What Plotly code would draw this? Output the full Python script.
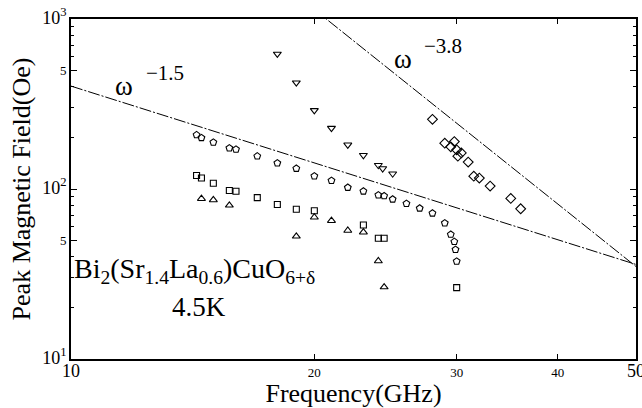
import math
import plotly.graph_objects as go

# ---- data (frequency in GHz, peak field in Oe) ----
pent_f = [14.3, 14.5, 15.0, 15.7, 16.0, 17.0, 18.0, 19.0, 20.0, 21.0, 22.0, 23.0,
          24.0, 24.4, 25.0, 26.0, 27.0, 28.0, 29.0, 29.5, 29.8, 29.9, 30.0]
pent_h = [208, 200, 188, 174, 171, 156, 142, 132, 119, 112, 102, 97,
          92, 91, 87, 82, 77, 72, 63, 54, 49, 44, 37.5]

sq_f = [14.3, 14.5, 15.0, 15.7, 16.0, 17.0, 18.0, 19.0, 20.0, 23.0, 24.0, 24.4, 30.0]
sq_h = [120, 116, 108, 98, 97, 89, 81, 76, 74.5, 61.4, 51.3, 51.3, 26.3]

tri_f = [14.5, 15.0, 15.7, 19.0, 20.0, 21.0, 22.0, 23.0, 24.0, 24.4]
tri_h = [87.7, 86.2, 80.2, 52.7, 68.2, 65.1, 57.0, 55.7, 37.7, 26.5]

dtri_f = [18.0, 19.0, 20.0, 21.0, 22.0, 23.0, 24.0, 24.3, 25.0]
dtri_h = [623, 422, 290, 228, 182, 158, 138, 132, 123]

dia_f = [28.0, 29.0, 29.8, 29.5, 30.0, 30.4, 30.1, 31.0, 31.5, 32.0, 33.0, 35.0, 36.0]
dia_h = [257, 186, 190, 177, 170, 163, 156, 144, 119, 116, 104, 88, 76.5]

# guide lines (endpoints)
g15_f = [10, 50]
g15_h = [403, 36]
g38_f = [20, 50]
g38_h = [1138, 35]

x_tickvals = [10, 20, 30, 40, 50]
x_ticktext = ['<span style="font-size:18px">10</span>', '20', '30', '40',
              '<span style="font-size:18px">50</span>']
y_tickvals = [10, 50, 100, 500, 1000]
y_ticktext = ['<span style="font-size:18px">10<sup>1</sup></span>', '5',
              '<span style="font-size:18px">10<sup>2</sup></span>', '5',
              '<span style="font-size:18px">10<sup>3</sup></span>']
y_minor = [v * m for v in (10, 100) for m in (2, 3, 4, 6, 7, 8, 9)]

SERIF = "Liberation Serif, Times New Roman, serif"

fig = go.Figure()

for f, h in ((g15_f, g15_h), (g38_f, g38_h)):
    fig.add_trace(go.Scatter(x=f, y=h, mode="lines",
                             line=dict(color="black", width=1, dash="12px,2px,2px,2px"),
                             showlegend=False, hoverinfo="skip"))

def add_pts(f, h, sym, size):
    fig.add_trace(go.Scatter(x=f, y=h, mode="markers", showlegend=False,
                             marker=dict(symbol=sym, size=size, color="black",
                                         line=dict(color="black", width=1.1))))

add_pts(pent_f, pent_h, "pentagon-open", 7)
add_pts(sq_f, sq_h, "square-open", 6)
add_pts(tri_f, tri_h, "triangle-up-open", 7)
add_pts(dtri_f, dtri_h, "triangle-down-open", 7)
add_pts(dia_f, dia_h, "diamond-open", 7.5)

L, R, T, B = 71, 6, 19, 49
W, H = 642, 408
pw, ph = W - L - R, H - T - B

def px(x):
    return (x - L) / pw

def py(y):
    return (H - B - y) / ph

ann = [
    dict(text="ω", x=px(124), y=py(86), size=27),
    dict(text="−1.5", x=px(165), y=py(73), size=21),
    dict(text="ω", x=px(403), y=py(59), size=27),
    dict(text="−3.8", x=px(443), y=py(46), size=21),
    dict(text="Bi<sub>2</sub>(Sr<sub>1.4</sub>La<sub>0.6</sub>)CuO<sub>6+δ</sub>",
         x=px(194), y=py(270), size=28),
    dict(text="4.5K", x=px(199), y=py(307), size=27),
]
for a in ann:
    fig.add_annotation(text=a["text"], x=a["x"], y=a["y"], xref="paper", yref="paper",
                       showarrow=False, xanchor="center", yanchor="middle",
                       font=dict(family=SERIF, size=a["size"], color="black"))

axis_common = dict(showline=True, linecolor="black", linewidth=1.8, mirror="allticks",
                   ticks="inside", tickcolor="black", showgrid=False, zeroline=False,
                   ticklabeloverflow="allow", automargin=False,
                   tickfont=dict(family=SERIF, size=13, color="black"))

fig.update_xaxes(type="log", range=[1, math.log10(50) + 1e-5], tickmode="array",
                 tickvals=x_tickvals, ticktext=x_ticktext, ticklen=5, tickwidth=1.2,
                 title=dict(text="Frequency(GHz)", standoff=2,
                            font=dict(family=SERIF, size=26, color="black")),
                 **axis_common)
fig.update_yaxes(type="log", range=[1 - 1e-5, 3 + 1e-5], tickmode="array", tickvals=y_tickvals,
                 ticktext=y_ticktext, ticklen=6, tickwidth=1.2,
                 minor=dict(tickmode="array", tickvals=y_minor, ticks="inside",
                            ticklen=3, tickcolor="black", tickwidth=1),
                 title=dict(text="Peak Magnetic Field(Oe)", standoff=4,
                            font=dict(family=SERIF, size=26, color="black")),
                 **axis_common)

fig.update_layout(width=W, height=H, margin=dict(l=L, r=R, t=T, b=B, autoexpand=False),
                  plot_bgcolor="white", paper_bgcolor="white")

fig.write_html("out.html", config={"displayModeBar": False},
               post_script="document.body.style.margin='0';")
